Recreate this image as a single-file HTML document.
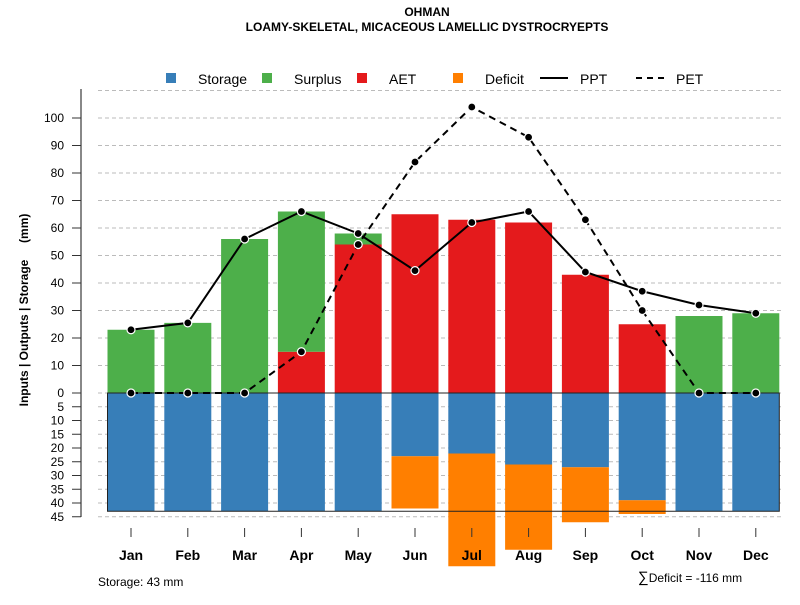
<!DOCTYPE html>
<html><head><meta charset="utf-8"><style>
body{margin:0;background:#fff;}
svg text{font-family:"Liberation Sans",Arial,sans-serif;}
</style></head><body>
<svg id="chart" width="800" height="600" viewBox="0 0 800 600" xmlns="http://www.w3.org/2000/svg">
<text x="427" y="16" text-anchor="middle" font-size="12" font-weight="bold">OHMAN</text>
<text x="427" y="31" text-anchor="middle" font-size="12" font-weight="bold">LOAMY-SKELETAL, MICACEOUS LAMELLIC DYSTROCRYEPTS</text>
<g id="grid"></g>
<g id="bars"></g>
<g id="lines"></g>
<g id="axes"></g>
<g font-size="14">
<rect x="166" y="73" width="10" height="10" fill="#377eb8"/>
<text x="198" y="84">Storage</text>
<rect x="262" y="73" width="10" height="10" fill="#4daf4a"/>
<text x="294" y="84">Surplus</text>
<rect x="357" y="73" width="10" height="10" fill="#e41a1c"/>
<text x="389" y="84">AET</text>
<rect x="453" y="73" width="10" height="10" fill="#ff7f00"/>
<text x="485" y="84">Deficit</text>
<line x1="540" y1="78" x2="568" y2="78" stroke="#000" stroke-width="2"/>
<text x="580" y="84">PPT</text>
<line x1="636" y1="78" x2="664" y2="78" stroke="#000" stroke-width="2" stroke-dasharray="6,5"/>
<text x="676" y="84">PET</text>
</g>
<text transform="translate(28,310) rotate(-90)" text-anchor="middle" font-size="12" font-weight="bold" style="white-space:pre">Inputs | Outputs | Storage     (mm)</text>
<text x="98" y="586" font-size="12">Storage: 43 mm</text>
<text x="638" y="582" font-size="12"><tspan font-size="15">∑</tspan>Deficit = -116 mm</text>
</svg>
<script>
const months=["Jan","Feb","Mar","Apr","May","Jun","Jul","Aug","Sep","Oct","Nov","Dec"];
const aet=[0,0,0,15,54,65,63,62,43,25,0,0];
const surplus=[23,25.5,56,51,4,0,0,0,0,0,28,29];
const storage=[43,43,43,43,43,23,22,26,27,39,43,43];
const deficit=[0,0,0,0,0,19,41,31,20,5,0,0];
const ppt=[23,25.5,56,66,58,44.5,62,66,44,37,32,29];
const pet=[0,0,0,15,54,84,104,93,63,30,0,0];
const upTicks=[0,10,20,30,40,50,60,70,80,90,100];
const downTicks=[5,10,15,20,25,30,35,40,45];
const capacity=43;

const NS="http://www.w3.org/2000/svg";
const zeroY=393, k=2.75;
function yUp(v){return zeroY-v*k;}
function yDown(v){return zeroY+v*k;}
function xC(i){return 131+i*56.8;}
const bw=47;
function mk(tag,attrs,parent){const e=document.createElementNS(NS,tag);for(const a in attrs)e.setAttribute(a,attrs[a]);parent.appendChild(e);return e;}
const grid=document.getElementById('grid'),bars=document.getElementById('bars'),lines=document.getElementById('lines'),axes=document.getElementById('axes');

[...upTicks,110].forEach(v=>{const l=mk('line',{x1:98,x2:782,y1:yUp(v),y2:yUp(v),stroke:'#bbb','stroke-dasharray':'4,3'},grid);

});
downTicks.forEach(v=>{const l=mk('line',{x1:98,x2:782,y1:yDown(v),y2:yDown(v),stroke:'#bbb','stroke-dasharray':'4,3'},grid);

});

months.forEach((m,i)=>{
 const x=xC(i)-bw/2;
 if(aet[i]>0){const r=mk('rect',{x:x,y:yUp(aet[i]),width:bw,height:aet[i]*k,fill:'#e41a1c'},bars);
 
 }
 if(surplus[i]>0){const r=mk('rect',{x:x,y:yUp(aet[i]+surplus[i]),width:bw,height:surplus[i]*k,fill:'#4daf4a'},bars);
 
 }
 const s=mk('rect',{x:x,y:zeroY,width:bw,height:storage[i]*k,fill:'#377eb8'},bars);
 
 
 if(deficit[i]>0){const r=mk('rect',{x:x,y:yDown(storage[i]),width:bw,height:deficit[i]*k,fill:'#ff7f00'},bars);
 
 }
});
const box=mk('rect',{x:xC(0)-bw/2,y:zeroY,width:xC(11)+bw/2-(xC(0)-bw/2),height:capacity*k,fill:'none',stroke:'#222','stroke-width':1},bars);



function series(arr,dash,name){
 const pts=arr.map((v,i)=>xC(i)+','+yUp(v)).join(' ');
 const p=mk('polyline',{points:pts,fill:'none',stroke:'#000','stroke-width':2,'stroke-dasharray':dash},lines);
 
 
 arr.forEach((v,i)=>{const c=mk('circle',{cx:xC(i),cy:yUp(v),r:4,fill:'#000',stroke:'#fff','stroke-width':1.2},lines);
 
 });
}
series(pet,'7,5','pet');
series(ppt,'none','ppt');

const ax=mk('line',{x1:81,x2:81,y1:89,y2:517,stroke:'#888','stroke-width':2},axes);


function ytick(y,lab){
 const t=mk('line',{x1:72,x2:81,y1:y,y2:y,stroke:'#333'},axes);
 
 
 const tx=mk('text',{x:64,y:y+4,'text-anchor':'end','font-size':12},axes);
 tx.textContent=lab;
 
 
}
upTicks.forEach(v=>ytick(yUp(v),v));
downTicks.forEach(v=>ytick(yDown(v),v));
months.forEach((m,i)=>{
 const t=mk('line',{x1:xC(i),x2:xC(i),y1:528,y2:537,stroke:'#333'},axes);
 
 
 const tx=mk('text',{x:xC(i),y:560,'text-anchor':'middle','font-size':14,'font-weight':'bold'},axes);
 tx.textContent=m;
 
 
});
</script>
</body></html>
